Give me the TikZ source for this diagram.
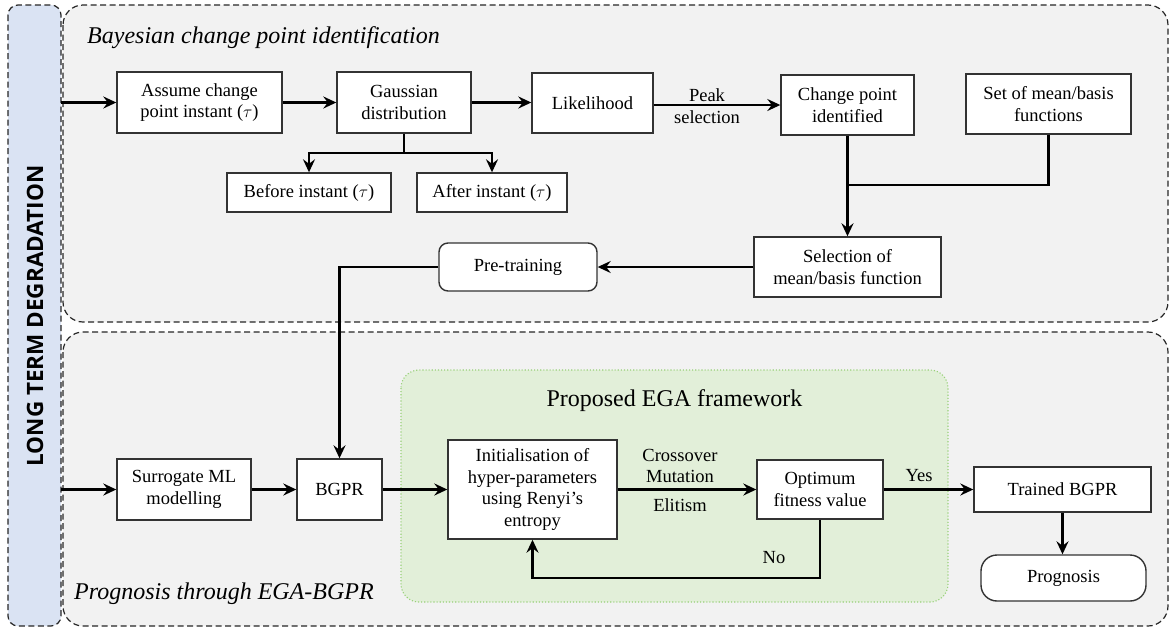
\documentclass[tikz,border=0pt]{standalone}
\usepackage{fontspec}
\setmainfont{Liberation Serif}
\newfontfamily\labelsans{Open Sans}
\usetikzlibrary{arrows.meta}
\definecolor{panelgray}{HTML}{F2F2F2}
\definecolor{stripblue}{HTML}{DAE3F3}
\definecolor{egagreen}{HTML}{E2EFD9}
\definecolor{egaborder}{HTML}{97D077}
\definecolor{boxline}{HTML}{333333}
\tikzset{
  panel/.style={draw=black!85, fill=panelgray, line width=1.2pt,
    dash pattern=on 6pt off 3.5pt, rounded corners=20pt},
  stepbox/.style={draw=boxline, fill=white, line width=1.4pt, inner sep=0pt,
    align=center, font=\fontsize{18.5}{21.5}\selectfont},
  roundbox/.style={stepbox, rounded corners=9pt},
  flow/.style={line width=2.1pt, -{Stealth[length=13pt,width=12pt,inset=4.5pt]}},
  plain/.style={line width=2.1pt},
  edgetext/.style={align=center, font=\fontsize{18.5}{21.5}\selectfont, inner sep=0pt},
  heading/.style={font=\fontsize{24}{28}\selectfont\itshape, inner sep=0pt}
}
\begin{document}
\begin{tikzpicture}[x=1pt, y=-1pt]
\useasboundingbox (0,0) rectangle (1170,630);

% side strip and the two panels
\draw[panel, fill=stripblue, rounded corners=10pt] (8,5) rectangle (61,626);
\draw[panel] (63,5) rectangle (1168,322);
\draw[panel] (63,332) rectangle (1168,626);
\node[rotate=90, inner sep=0pt, font=\labelsans\bfseries\fontsize{22.5}{26}\selectfont]
  (side) at (35,316) {LONG TERM DEGRADATION};

% EGA frame
\draw[draw=egaborder, fill=egagreen, line width=1.1pt, dotted, rounded corners=18pt]
  (401,370) rectangle (948,602);

% headings
\node[heading, anchor=base west] (h1) at (87,43) {Bayesian change point identification};
\node[heading, anchor=base west] (h2) at (74,599) {Prognosis through EGA-BGPR};
\node[anchor=base, inner sep=0pt, font=\fontsize{24}{28}\selectfont] (h3) at (674.5,406) {Proposed EGA framework};

% upper stage
\node[stepbox, minimum width=165pt, minimum height=61pt] (assume) at (199.5,102.5) {Assume change\\point instant ($\tau$)};
\node[stepbox, minimum width=134pt, minimum height=61pt] (gauss) at (404,102.5) {Gaussian\\distribution};
\node[stepbox, minimum width=121pt, minimum height=60pt] (lik) at (592.5,103) {Likelihood};
\node[stepbox, minimum width=133pt, minimum height=60pt] (cpi) at (847.5,105) {Change point\\identified};
\node[stepbox, minimum width=165pt, minimum height=60pt] (set) at (1048.5,104) {Set of mean/basis\\functions};
\node[stepbox, minimum width=164pt, minimum height=39pt] (before) at (309,192.5) {Before instant ($\tau$)};
\node[stepbox, minimum width=150pt, minimum height=39pt] (after) at (492,192.5) {After instant ($\tau$)};
\node[stepbox, minimum width=187pt, minimum height=60pt] (sel) at (847.5,267) {Selection of\\mean/basis function};
\node[roundbox, minimum width=158pt, minimum height=48pt] (pre) at (518,267) {Pre-training};

% lower stage
\node[stepbox, minimum width=134pt, minimum height=61pt] (surr) at (184,489.5) {Surrogate ML\\modelling};
\node[stepbox, minimum width=85pt, minimum height=61pt] (bgpr) at (339.5,489.5) {BGPR};
\node[stepbox, minimum width=169pt, minimum height=99pt] (init) at (532.5,489.5) {Initialisation of\\hyper-parameters\\using Renyi's\\entropy};
\node[stepbox, minimum width=126pt, minimum height=59pt] (opt) at (820,489.5) {Optimum\\fitness value};
\node[stepbox, minimum width=177pt, minimum height=45pt] (trained) at (1062.5,489.5) {Trained BGPR};
\node[stepbox, rounded corners=16pt, minimum width=165pt, minimum height=46pt] (prog) at (1063.5,578) {Prognosis};

% helper points
\coordinate (in1) at (61,102.5);
\coordinate (in2) at (61,489.5);
\coordinate (split) at (404,153);
\coordinate (join) at (847.5,185);
\coordinate (lp1) at (820,578);
\coordinate (lp2) at (532.5,578);

% connectors, upper stage
\draw[flow] (in1) -- (assume.west);
\draw[flow] (assume.east) -- (gauss.west);
\draw[flow] (gauss.east) -- (lik.west |- gauss.east);
\draw[flow] (lik.east |- cpi.west) -- (cpi.west);
\node[edgetext] (peak) at (707,106) {Peak\\selection};
\draw[plain] (gauss.south) -- (split);
\draw[flow] (split) -| (before.north);
\draw[flow] (split) -| (after.north);
\draw[flow] (cpi.south) -- (sel.north);
\draw[plain] (set.south) |- (join);
\draw[flow] (sel.west) -- (pre.east);
\draw[flow] (pre.west) -| (bgpr.north);

% connectors, lower stage
\draw[flow] (in2) -- (surr.west);
\draw[flow] (surr.east) -- (bgpr.west);
\draw[flow] (bgpr.east) -- (init.west);
\draw[flow] (init.east) -- (opt.west);
\node[edgetext] (cm) at (680,466) {Crossover\\Mutation};
\node[edgetext] (eli) at (680,505) {Elitism};
\draw[flow] (opt.east) -- (trained.west);
\node[edgetext] (yes) at (919,476) {Yes};
\draw[flow] (opt.south) -- (lp1) -- (lp2) -- (init.south);
\node[edgetext] (no) at (774,558) {No};
\draw[flow] (trained.south) -- (trained.south |- prog.north);
\end{tikzpicture}
\end{document}
